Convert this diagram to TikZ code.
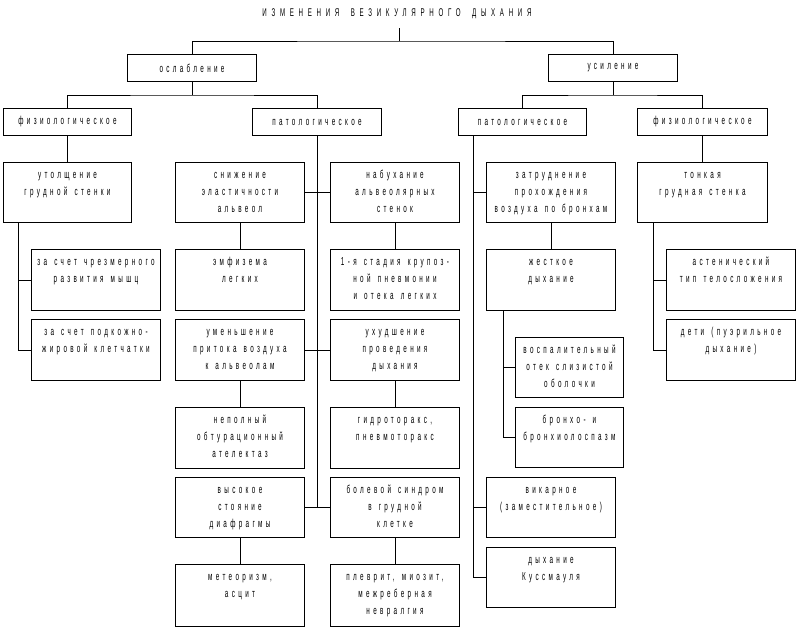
\documentclass[tikz,border=0pt]{standalone}
\usepackage{fontspec}
\setmainfont{Liberation Sans}[FakeStretch=0.55,LetterSpace=29,WordSpace=1.4]
\newfontfamily\titlefont{Liberation Sans}[FakeStretch=0.55,LetterSpace=42,WordSpace=1.8]
\newcommand\mybox[6]{%
  \node[box, minimum width=#4pt, minimum height=#5pt] (#1) at (#2,#3) {};
  \node[txt] at ([yshift=-4pt]#1.north) {\rule{0pt}{12pt}#6};}
\newcommand\onebox[6]{%
  \node[box, onetxt, minimum width=#4pt, minimum height=#5pt] (#1) at (#2,#3) {#6};}
\begin{document}
\begin{tikzpicture}[x=1pt,y=-1pt,
  box/.style={draw, line width=1pt, inner sep=0pt, anchor=north west},
  txt/.style={align=center, inner sep=0pt, anchor=north,
    font=\fontsize{11.5}{17}\selectfont},
  onetxt/.style={font=\fontsize{11.5}{17}\selectfont},
  conn/.style={line width=1pt}]
\useasboundingbox (0,0) rectangle (798,627);
\node[font=\titlefont\fontsize{11.2}{12}\selectfont, minimum height=29pt, inner sep=0pt] (title) at (397,13.5) {ИЗМЕНЕНИЯ ВЕЗИКУЛЯРНОГО ДЫХАНИЯ};
\onebox{osl}{127}{54}{129}{27}{ослабление}
\onebox{usil}{548}{54}{129}{27}{усиление}
\onebox{fizL}{3}{108}{128}{27}{физиологическое}
\onebox{patL}{252}{108}{129}{27}{патологическое}
\onebox{patR}{458}{108}{128}{27}{патологическое}
\onebox{fizR}{637}{108}{130}{27}{физиологическое}
\mybox{utol}{3}{162}{128}{60}{утолщение\\грудной стенки}
\mybox{zs1}{31}{249}{129}{61}{за счет чрезмерного\\развития мышц}
\mybox{zs2}{31}{319}{129}{61}{за счет подкожно-\\жировой клетчатки}
\mybox{sniz}{175}{162}{129}{60}{снижение\\эластичности\\альвеол}
\mybox{nab}{330}{162}{129}{60}{набухание\\альвеолярных\\стенок}
\mybox{emf}{175}{249}{129}{61}{эмфизема\\легких}
\mybox{stad}{330}{249}{129}{61}{1-я стадия крупоз-\\ной пневмонии\\и отека легких}
\mybox{umen}{175}{319}{129}{61}{уменьшение\\притока воздуха\\к альвеолам}
\mybox{uhud}{330}{319}{129}{61}{ухудшение\\проведения\\дыхания}
\mybox{nepol}{175}{407}{129}{61}{неполный\\обтурационный\\ателектаз}
\mybox{gidro}{330}{407}{129}{61}{гидроторакс,\\пневмоторакс}
\mybox{vys}{175}{477}{129}{60}{высокое\\стояние\\диафрагмы}
\mybox{bol}{330}{477}{129}{60}{болевой синдром\\в грудной\\клетке}
\mybox{meteo}{175}{564}{129}{62}{метеоризм,\\асцит}
\mybox{plev}{330}{564}{129}{62}{плеврит, миозит,\\межреберная\\невралгия}
\mybox{zatr}{486}{162}{129}{60}{затруднение\\прохождения\\воздуха по бронхам}
\mybox{zhest}{486}{249}{129}{61}{жесткое\\дыхание}
\mybox{vosp}{515}{337}{108}{60}{воспалительный\\отек слизистой\\оболочки}
\mybox{bronh}{515}{407}{108}{60}{бронхо- и\\бронхиолоспазм}
\mybox{vik}{486}{477}{129}{60}{викарное\\(заместительное)}
\mybox{kuss}{486}{547}{129}{60}{дыхание\\Куссмауля}
\mybox{tonk}{637}{162}{130}{60}{тонкая\\грудная стенка}
\mybox{astn}{666}{249}{129}{61}{астенический\\тип телосложения}
\mybox{deti}{666}{319}{129}{61}{дети (пуэрильное\\дыхание)}
% connectors
\coordinate (tj) at (399.5,41);
\coordinate (ya) at (0,95);
\draw[conn] (title.south -| tj) -- (tj);
\draw[conn] (osl.north) |- (tj) -| (usil.north);
\draw[conn] (osl.south) -- (osl.south |- ya);
\draw[conn] (fizL.north) |- (osl.south |- ya) -| (patL.north);
\draw[conn] (usil.south) -- (usil.south |- ya);
\draw[conn] (patR.north) |- (usil.south |- ya) -| (fizR.north);
\draw[conn] (fizL.south) -- (utol.north);
\coordinate (ls) at ([xshift=-49pt]utol.south);
\draw[conn] (ls) |- (zs2.west);
\draw[conn] (ls |- zs1.west) -- (zs1.west);
\draw[conn] (patL.south) -- (patL.south |- vys.east);
\draw[conn] (sniz.east) -- (nab.west);
\draw[conn] (umen.east) -- (uhud.west);
\draw[conn] (vys.east) -- (bol.west);
\draw[conn] (sniz.south) -- (emf.north);
\draw[conn] (nab.south) -- (stad.north);
\draw[conn] (umen.south) -- (nepol.north);
\draw[conn] (uhud.south) -- (gidro.north);
\draw[conn] (vys.south) -- (meteo.north);
\draw[conn] (bol.south) -- (plev.north);
\coordinate (sp) at ([xshift=-49pt]patR.south);
\draw[conn] (sp) |- (kuss.west);
\draw[conn] (sp |- zatr.west) -- (zatr.west);
\draw[conn] (sp |- vik.west) -- (vik.west);
\draw[conn] (zatr.south) -- (zhest.north);
\coordinate (zsp) at ([xshift=-48pt]zhest.south);
\draw[conn] (zsp) |- (bronh.west);
\draw[conn] (zsp |- vosp.west) -- (vosp.west);
\draw[conn] (fizR.south) -- (tonk.north);
\coordinate (ts) at ([xshift=-49pt]tonk.south);
\draw[conn] (ts) |- (deti.west);
\draw[conn] (ts |- astn.west) -- (astn.west);
\end{tikzpicture}
\end{document}
